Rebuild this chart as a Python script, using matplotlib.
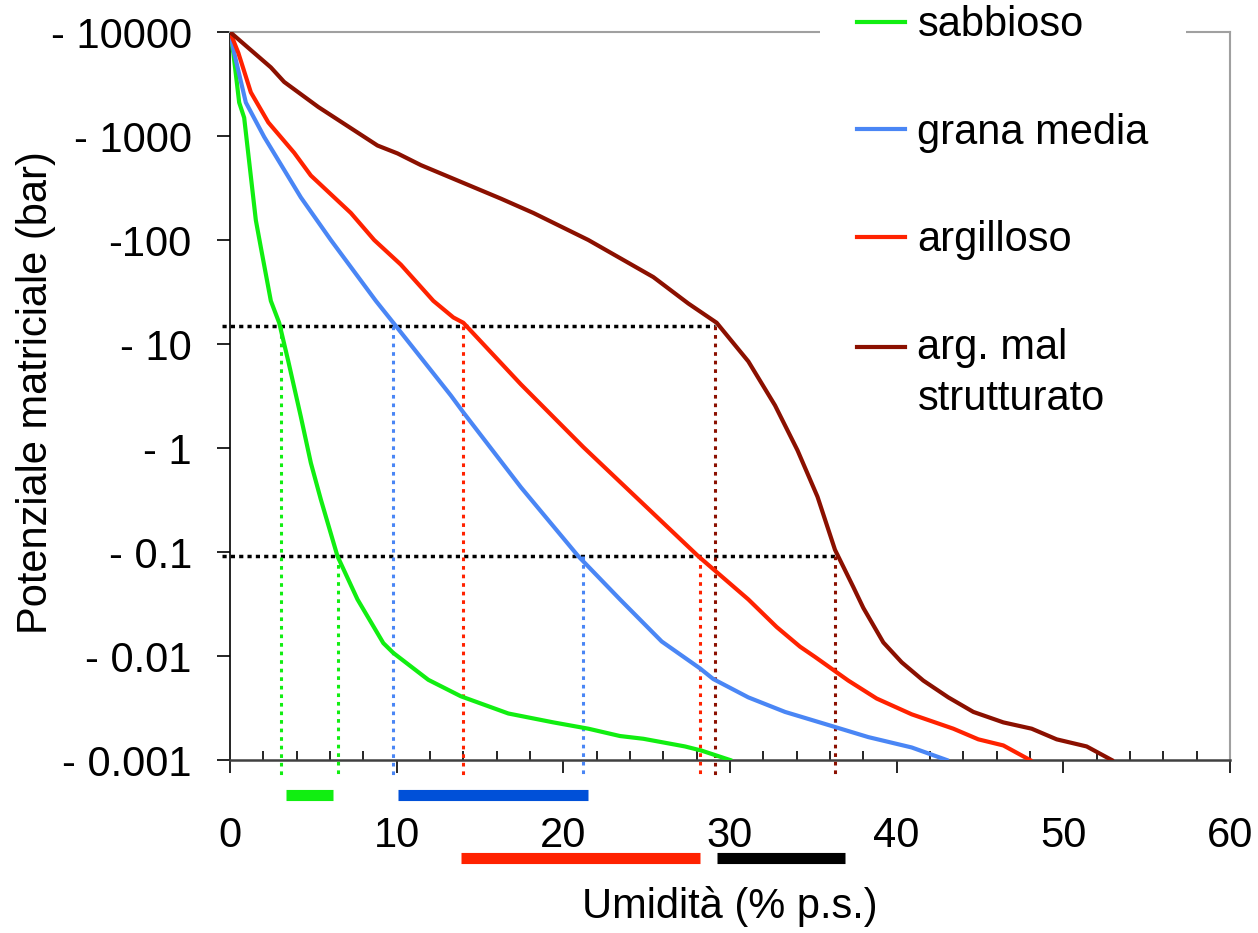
import numpy as np
import matplotlib
matplotlib.use("Agg")
import matplotlib.pyplot as plt
from matplotlib.legend_handler import HandlerLine2D

plt.rcParams['font.family'] = ['Liberation Sans', 'DejaVu Sans']

# curve data: umidita (% p.s.) vs |potenziale matriciale| (bar)
sab_x = [0, 0.2, 0.55, 0.85, 1.55, 1.85, 2.45, 2.95, 3.5, 4.25, 4.85, 5.45, 6.45, 7.65,
         9.2, 9.8, 11.9, 13.85, 16.7, 19.4, 21.5, 23.4, 24.8, 27.3, 28.3, 30.0]
sab_y = [10000, 6300, 2100, 1500, 155, 85, 26, 16, 6.8, 2.0, 0.72, 0.32, 0.091, 0.035,
         0.0133, 0.0107, 0.0059, 0.0041, 0.0028, 0.0023, 0.002, 0.0017, 0.0016, 0.00135,
         0.00123, 0.001]

med_x = [0, 0.25, 0.95, 2.05, 4.25, 6.05, 8.75, 9.8, 13.25, 14.0, 17.45, 20.9, 23.4,
         25.9, 28.2, 29.0, 31.1, 33.3, 36.2, 38.3, 40.9, 43.0]
med_y = [10000, 6300, 2100, 980, 257, 100, 26, 16, 3.2, 2.2, 0.42, 0.091, 0.035,
         0.0138, 0.0076, 0.006, 0.004, 0.0029, 0.0021, 0.00166, 0.00132, 0.001]

arg_x = [0, 0.5, 1.25, 2.3, 3.85, 4.85, 7.25, 8.65, 10.25, 12.2, 13.4, 14.0, 17.45, 21.2,
         28.1, 31.1, 32.8, 34.2, 35.1, 37.1, 38.8, 40.9, 43.4, 44.9, 46.4, 48.0]
arg_y = [10000, 6300, 2630, 1350, 690, 417, 182, 100, 58, 26, 18, 16, 4.1, 1.02,
         0.091, 0.035, 0.019, 0.0123, 0.0098, 0.0058, 0.0039, 0.00275, 0.002, 0.00158,
         0.00138, 0.001]

mal_x = [0, 2.45, 3.25, 5.3, 8.85, 10.05, 11.45, 16.25, 18.2, 21.5, 25.4, 27.5, 29.2,
         31.1, 32.7, 34.05, 35.25, 36.3, 37.4, 38.0, 39.2, 40.3, 41.6, 43.1, 44.6, 46.4,
         48.1, 49.6, 51.4, 52.9]
mal_y = [10000, 4570, 3310, 1900, 810, 680, 525, 250, 182, 100, 44, 24.5, 16,
         6.8, 2.57, 0.95, 0.34, 0.105, 0.046, 0.029, 0.0135, 0.0087, 0.0058, 0.004,
         0.0029, 0.0023, 0.002, 0.00158, 0.00135, 0.001]

labels = ['sabbioso', 'grana media', 'argilloso', 'arg. mal\nstrutturato']
colors = ['#11ee11', '#4a86f5', '#ff2200', '#8b1000']

# punto di appassimento / capacita di campo
psi_pa = 15
psi_cc = 0.092
u_pa = [3.06, 9.8, 13.97, 29.1]
u_cc = [6.47, 21.2, 28.2, 36.3]

# acqua disponibile (barre sotto l'asse)
bar_colors = ['#11ee11', '#0050d8', '#ff2200', 'black']
bar_start = [3.35, 10.05, 13.85, 29.2]
bar_end = [6.15, 21.5, 28.2, 36.9]
bar_level = [10**-3.34, 10**-3.34, 10**-3.94, 10**-3.94]

yticks = [10000, 1000, 100, 10, 1, 0.1, 0.01, 0.001]
ytick_labels = ['- 10000', '- 1000', '-100', '- 10', '- 1', '- 0.1', '- 0.01', '- 0.001']


class TopLineHandler(HandlerLine2D):
    # put the legend line next to the first text line of a 2-line label
    def create_artists(self, legend, orig_handle, xdescent, ydescent, width, height,
                       fontsize, trans):
        return super().create_artists(legend, orig_handle, xdescent, ydescent - 40,
                                      width, height, fontsize, trans)


fig = plt.figure(figsize=(12.58, 9.33), dpi=100)
ax = fig.add_axes([230/1258, 1 - 760/933, 1000/1258, 728/933])

xs = [sab_x, med_x, arg_x, mal_x]
ys = [sab_y, med_y, arg_y, mal_y]
handles = []
for x, y, c, l in zip(xs, ys, colors, labels):
    h, = ax.plot(x, y, color=c, lw=3, label=l, zorder=4, solid_joinstyle='round')
    handles.append(h)

# dotted guide lines
ax.plot([-0.5, u_pa[3]], [psi_pa, psi_pa], color='black', lw=2.5, ls=(0, (1.2, 1.2)),
        clip_on=False, zorder=3)
ax.plot([-0.5, u_cc[3]], [psi_cc, psi_cc], color='black', lw=2.5, ls=(0, (1.2, 1.2)),
        clip_on=False, zorder=3)
for i in range(4):
    ax.plot([u_pa[i], u_pa[i]], [psi_pa, 10**-3.17], color=colors[i], lw=2.2,
            ls=(0, (1.2, 1.6)), clip_on=False, zorder=3)
    ax.plot([u_cc[i], u_cc[i]], [psi_cc, 10**-3.17], color=colors[i], lw=2.2,
            ls=(0, (1.2, 1.6)), clip_on=False, zorder=3)

for s, e, lv, c in zip(bar_start, bar_end, bar_level, bar_colors):
    ax.plot([s, e], [lv, lv], color=c, lw=8, solid_capstyle='butt', clip_on=False)

ax.set_yscale('log')
ax.set_ylim(0.001, 10000)
ax.set_xlim(0, 60)
ax.set_yticks(yticks)
ax.set_yticklabels(ytick_labels)
ax.yaxis.set_minor_locator(matplotlib.ticker.NullLocator())
ax.set_xticks(range(0, 61, 10))
ax.set_xticks(range(0, 61, 2), minor=True)

ax.tick_params(axis='y', which='major', direction='out', length=9.5, width=1.2,
               labelsize=30, pad=18)
ax.tick_params(axis='x', which='major', direction='out', length=9.5, width=1.2,
               labelsize=30, pad=31)
ax.tick_params(axis='x', which='minor', direction='in', length=6.5, width=1.2)

for side in ['top', 'right']:
    ax.spines[side].set_color('#a0a0a0')
    ax.spines[side].set_linewidth(1.5)
ax.spines['left'].set_color('black')
ax.spines['left'].set_linewidth(1.2)
ax.spines['bottom'].set_color('#404040')
ax.spines['bottom'].set_linewidth(1.8)

ax.set_xlabel('Umidità (% p.s.)', fontsize=30)
ax.xaxis.set_label_coords(0.5, -0.173)
ax.set_ylabel('Potenziale matriciale (bar)', fontsize=30)
ax.yaxis.set_label_coords(-0.174, 0.505)

leg = ax.legend(handles=handles, loc='upper left',
                bbox_to_anchor=(819.5/1258, 1 + 32/933),
                bbox_transform=fig.transFigure, frameon=True, facecolor='white',
                edgecolor='none', framealpha=1, fancybox=False, fontsize=30,
                handlelength=1.15, handletextpad=0.3, labelspacing=1.62,
                borderpad=0.9, borderaxespad=0,
                handler_map={handles[3]: TopLineHandler()})
for t in leg.get_texts():
    t.set_linespacing(1.35)

fig.savefig('out.png', dpi=100)
